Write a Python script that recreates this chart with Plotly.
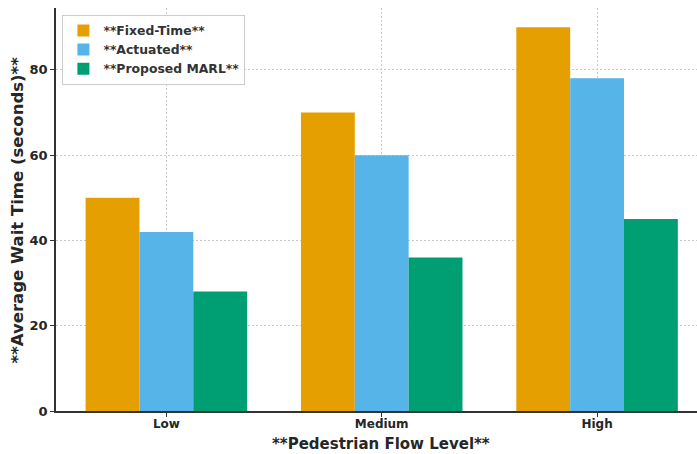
import plotly.graph_objects as go

categories = ["Low", "Medium", "High"]
fixed_time = [50, 70, 90]
actuated = [42, 60, 78]
marl = [28, 36, 45]
series_names = ["**Fixed-Time**", "**Actuated**", "**Proposed MARL**"]
colors = ["#E69F00", "#56B4E9", "#009E73"]
y_ticks = [0, 20, 40, 60, 80]

x_idx = list(range(len(categories)))
fig = go.Figure()
for name, vals, c in zip(series_names, [fixed_time, actuated, marl], colors):
    fig.add_trace(go.Bar(x=x_idx, y=vals, name="<b>%s</b>" % name, marker=dict(color=c, line=dict(width=0))))

fig.update_layout(
    width=697, height=454,
    margin=dict(l=56, r=0, t=8, b=43),
    paper_bgcolor="white", plot_bgcolor="white",
    barmode="group", bargap=0.25, bargroupgap=0,
    font=dict(family="DejaVu Sans", color="#262626", size=12),
    showlegend=True,
    legend=dict(x=0.01, y=0.983, xanchor="left", yanchor="top",
                bgcolor="rgba(255,255,255,0.85)", bordercolor="#cccccc", borderwidth=1,
                font=dict(size=12.4, family="DejaVu Sans", color="#333333"),
                itemwidth=30, tracegroupgap=2),
    annotations=[
        dict(text="<b>**Pedestrian Flow Level**</b>", xref="paper", yref="paper",
             x=0.507, y=-0.081, xanchor="center", yanchor="middle", showarrow=False,
             font=dict(size=15, family="DejaVu Sans", color="#262626")),
        dict(text="<b>**Average Wait Time (seconds)**</b>", xref="paper", yref="paper",
             x=-0.0593, y=0.5, xanchor="center", yanchor="middle", showarrow=False, textangle=-90,
             font=dict(size=16.5, family="DejaVu Sans", color="#262626")),
    ],
)
fig.update_xaxes(
    range=[-0.5125, 2.464],
    tickvals=x_idx, ticktext=["<b>%s</b>" % c for c in categories],
    showline=True, linecolor="#333333", linewidth=1.5,
    ticks="outside", ticklen=4, tickcolor="#333333",
    showgrid=True, gridcolor="#c8c8c8", griddash="2px,2px", gridwidth=0.8,
    layer="above traces",
    ticklabelstandoff=-3,
    tickfont=dict(size=12), zeroline=False,
)
fig.update_yaxes(
    range=[0, 94.5],
    tickvals=y_ticks, ticktext=["<b>%d</b>" % v for v in y_ticks],
    showline=True, linecolor="#333333", linewidth=1.5,
    ticks="outside", ticklen=4, tickcolor="#333333",
    showgrid=True, gridcolor="#c8c8c8", griddash="2px,2px", gridwidth=0.8,
    layer="above traces",
    tickfont=dict(size=13), zeroline=False,
)
fig.write_html("out.html")
